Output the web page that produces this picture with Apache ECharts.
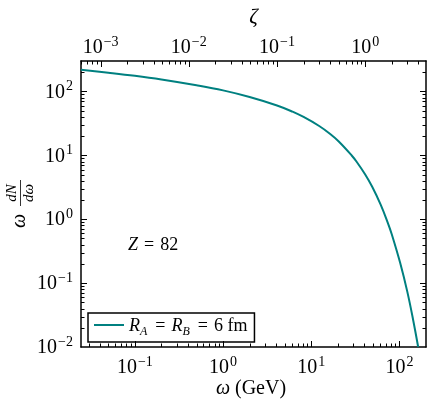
<!DOCTYPE html>
<html><head><meta charset="utf-8">
<script src="https://cdn.jsdelivr.net/npm/echarts@6/dist/echarts.min.js"></script>
<style>html,body{margin:0;padding:0;background:#fff}#c{width:427px;height:408px}</style>
</head><body><div id="c"></div>
<script>
// ---- data ----
const omega = [0.0245, 0.05, 0.1, 0.2, 0.5, 1, 2, 4.09, 6.13, 8.18, 12.3, 16.4, 20.5, 28.6, 32.7, 40.9, 49.1, 61.4, 73.6, 81.8, 102, 122.7, 143, 163];
const flux  = [219, 197, 176, 154, 125, 104, 82, 60.4, 48.3, 39.9, 28.8, 21.6, 16.5, 10.05, 7.93, 5.02, 3.22, 1.68, 0.887, 0.583, 0.206, 0.0736, 0.0265, 0.01];
const seriesName = 'R_A = R_B = 6 fm';
const xMajor = [0.1, 1, 10, 100];
const zetaMajor = [0.001, 0.01, 0.1, 1];
const yMajor = [0.01, 0.1, 1, 10, 100];
const xRange = [0.0245, 200];
const zetaScale = 40.9; // zeta = omega / 40.9
const yRange = [0.01, 300];

function minorTicks(lo, hi) {
  const out = [];
  for (let e = -5; e <= 4; e++) {
    for (let m = 2; m <= 9; m++) {
      const v = m * Math.pow(10, e);
      if (v > lo && v < hi) out.push(v);
    }
  }
  return out;
}
const zetaRange = [xRange[0] / zetaScale, xRange[1] / zetaScale];

const serif = 'Liberation Serif';
function pow10(v) {
  const e = Math.round(Math.log10(v));
  return '{b|10}{s|' + (e < 0 ? '\u2212' + (-e) : e) + '}';
}
const richSup = {
  b: { fontSize: 20, fontFamily: serif, color: '#000', verticalAlign: 'bottom', lineHeight: 22 },
  s: { fontSize: 14, fontFamily: serif, color: '#000', verticalAlign: 'bottom', lineHeight: 22, padding: [0, 0, 9, 1] }
};

function axis(pos, range, majors, showLabels, margin) {
  return {
    type: 'log', logBase: 10, position: pos, min: range[0], max: range[1],
    axisLine: { show: true, onZero: false, lineStyle: { color: '#000', width: 1.5 } },
    axisTick: { show: false },
    axisLabel: { show: !!showLabels, formatter: pow10, rich: richSup, margin: margin, customValues: majors },
    splitLine: { show: false }, minorTick: { show: false }
  };
}

const chart = echarts.init(document.getElementById('c'), null, { renderer: 'canvas' });
const data = omega.map((w, i) => [w, flux[i]]);

const rich18 = {
  i: { fontSize: 18, fontFamily: serif, fontStyle: 'italic', color: '#000' }
};
const SP = '\u2004';

chart.setOption({
  animation: false,
  backgroundColor: '#fff',
  grid: { left: 81, top: 61, width: 345, height: 286, show: false },
  xAxis: [
    axis('bottom', xRange, xMajor, true, 9),
    axis('top', zetaRange, zetaMajor, true, 3)
  ],
  yAxis: [
    axis('left', yRange, yMajor, true, 8),
    axis('right', yRange, yMajor, false, 8)
  ],
  legend: {
    left: 88, top: 313, orient: 'horizontal',
    backgroundColor: '#fff', borderColor: '#000', borderWidth: 1.5, borderRadius: 0,
    padding: [4, 7, 4, 6], itemWidth: 30, itemGap: 4,
    icon: 'path://M0,0 L30,0 L30,2 L0,2 Z',
    itemHeight: 2,
    data: [seriesName],
    formatter: function () {
      return '{i|R}{sub|A}{t|' + SP + '=' + SP + '}{i|R}{sub|B}{t|' + SP + '=' + SP + '6 fm}';
    },
    textStyle: {
      rich: {
        i: { fontSize: 18, fontFamily: serif, fontStyle: 'italic', color: '#000', verticalAlign: 'bottom', lineHeight: 20 },
        sub: { fontSize: 12, fontFamily: serif, fontStyle: 'italic', color: '#000', verticalAlign: 'bottom', lineHeight: 20, padding: [0, 2, -3, 0] },
        t: { fontSize: 18, fontFamily: serif, color: '#000', verticalAlign: 'bottom', lineHeight: 20 }
      }
    }
  },
  series: [{
    name: seriesName, type: 'line', xAxisIndex: 0, yAxisIndex: 0,
    data: data, smooth: 0.4, showSymbol: false, clip: true,
    lineStyle: { color: '#008080', width: 2 }, itemStyle: { color: '#008080' }
  }]
});

// ---- ticks on all four sides, positioned through the axes' own scales ----
(function () {
  const g = [];
  const px = (v) => chart.convertToPixel({ xAxisIndex: 0 }, v);
  const pz = (v) => chart.convertToPixel({ xAxisIndex: 1 }, v);
  const py = (v) => chart.convertToPixel({ yAxisIndex: 0 }, v);
  const xL = px(xRange[0]), xR = px(xRange[1]);
  const yB = py(yRange[0]), yT = py(yRange[1]);
  const tickStyle = { stroke: '#000', lineWidth: 1 };
  function tick(x1, y1, x2, y2) {
    g.push({ type: 'line', silent: true, z: 5, shape: { x1: x1, y1: y1, x2: x2, y2: y2 }, style: tickStyle });
  }
  const MAJ = 6, MIN = 3.5;
  xMajor.forEach(v => { const x = Math.round(px(v)) + 0.5; tick(x, yB, x, yB - MAJ); });
  minorTicks(xRange[0], xRange[1]).forEach(v => { const x = Math.round(px(v)) + 0.5; tick(x, yB, x, yB - MIN); });
  zetaMajor.forEach(v => { const x = Math.round(pz(v)) + 0.5; tick(x, yT, x, yT + MAJ); });
  minorTicks(zetaRange[0], zetaRange[1]).forEach(v => { const x = Math.round(pz(v)) + 0.5; tick(x, yT, x, yT + MIN); });
  yMajor.forEach(v => { const y = Math.round(py(v)) + 0.5; if (v > yRange[0]) { tick(xL, y, xL + MAJ, y); tick(xR, y, xR - MAJ, y); } });
  minorTicks(yRange[0], yRange[1]).forEach(v => { const y = Math.round(py(v)) + 0.5; tick(xL, y, xL + MIN, y); tick(xR, y, xR - MIN, y); });

  // ---- titles and annotation ----
  g.push({ type: 'text', x: (xL + xR) / 2, y: 17, style: { text: '\u03b6', font: 'italic 21px ' + serif, fill: '#000', align: 'center', verticalAlign: 'middle' } });
  g.push({ type: 'text', x: 251, y: 389, style: { text: '{i|\u03c9} (GeV)', align: 'center', verticalAlign: 'middle',
      rich: { i: { fontSize: 20, fontFamily: serif, fontStyle: 'italic' } }, fontSize: 20, fontFamily: serif, fill: '#000' } });
  g.push({ type: 'text', x: 128, y: 245, style: { text: '{i|Z}' + SP + '=' + SP + '82', align: 'left', verticalAlign: 'middle',
      rich: rich18, fontSize: 18, fontFamily: serif, fill: '#000' } });
  g.push({ type: 'group', x: 20, y: 228, rotation: Math.PI / 2, children: [
    { type: 'text', x: 0, y: 0, style: { text: '\u03c9', font: 'italic 20px ' + serif, fill: '#000', align: 'left', verticalAlign: 'middle' } },
    { type: 'text', x: 35, y: -8, style: { text: 'dN', font: 'italic 15px ' + serif, fill: '#000', align: 'center', verticalAlign: 'middle' } },
    { type: 'line', shape: { x1: 22, y1: 0.5, x2: 48, y2: 0.5 }, style: { stroke: '#000', lineWidth: 0.8 } },
    { type: 'text', x: 35, y: 9, style: { text: 'd\u03c9', font: 'italic 15px ' + serif, fill: '#000', align: 'center', verticalAlign: 'middle' } }
  ] });
  chart.setOption({ graphic: g });
})();
</script>
</body></html>
